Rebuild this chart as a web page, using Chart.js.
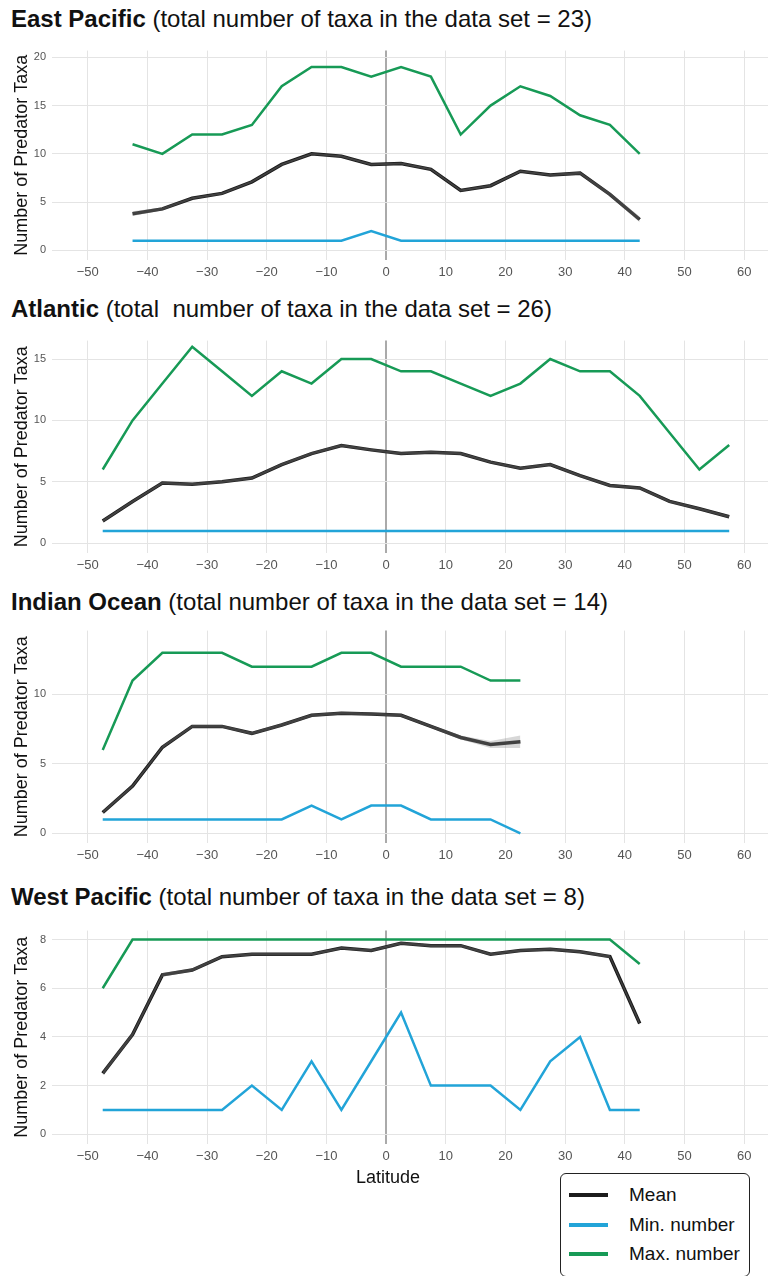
<!DOCTYPE html>
<html>
<head>
<meta charset="utf-8">
<script src="https://cdn.jsdelivr.net/npm/chart.js@4.4.1/dist/chart.umd.min.js"></script>
<style>
  body { margin: 0; width: 768px; height: 1276px; background: #fff; position: relative; overflow: hidden; font-family: "Liberation Sans", Arial, sans-serif; }
  .title { position: absolute; left: 11px; font-size: 24px; line-height: 1; white-space: nowrap; color: #111; }
  .title b { font-weight: 700; }
  canvas { position: absolute; left: 0; }
  .xlab { position: absolute; left: 288px; width: 200px; text-align: center; font-size: 18px; line-height: 20px; top: 1167px; color: #111; }
  .legend { position: absolute; left: 560px; top: 1173px; width: 190px; height: 104px; border: 1.5px solid #222; border-radius: 6px; box-sizing: border-box; }
  .legend .row { position: absolute; left: 8px; height: 22px; display: flex; align-items: center; }
  .legend .sw { width: 39px; height: 4px; margin-right: 21px; }
  .legend span { font-size: 19px; color: #111; }
</style>
</head>
<body>
<div class="title" style="top:7px"><b>East Pacific</b> (total number of taxa in the data set = 23)</div>
<canvas id="ep"></canvas>
<div class="title" style="top:297px"><b>Atlantic</b> (total&nbsp; number of taxa in the data set = 26)</div>
<canvas id="at"></canvas>
<div class="title" style="top:590px"><b>Indian Ocean</b> (total number of taxa in the data set = 14)</div>
<canvas id="io"></canvas>
<div class="title" style="top:885px"><b>West Pacific</b> (total number of taxa in the data set = 8)</div>
<canvas id="wp"></canvas>
<div class="xlab">Latitude</div>
<div class="legend">
  <div class="row" style="top:10px"><div class="sw" style="background:#1c1c1c"></div><span>Mean</span></div>
  <div class="row" style="top:40px"><div class="sw" style="background:#22a4d8"></div><span>Min. number</span></div>
  <div class="row" style="top:69px"><div class="sw" style="background:#179a56"></div><span>Max. number</span></div>
</div>
<script>
const xTicks = [-50, -40, -30, -20, -10, 0, 10, 20, 30, 40, 50, 60];

// East Pacific
const epLat = [-42.5, -37.5, -32.5, -27.5, -22.5, -17.5, -12.5, -7.5, -2.5, 2.5, 7.5, 12.5, 17.5, 22.5, 27.5, 32.5, 37.5, 42.5];
const epMax = [11, 10, 12, 12, 13, 17, 19, 19, 18, 19, 18, 12, 15, 17, 16, 14, 13, 10];
const epMean = [3.8, 4.3, 5.4, 5.9, 7.1, 8.9, 10.0, 9.75, 8.9, 9.0, 8.4, 6.2, 6.7, 8.2, 7.8, 8.0, 5.8, 3.2];
const epSe = [0.25, 0.15, 0.1, 0.1, 0.1, 0.1, 0.1, 0.1, 0.1, 0.1, 0.1, 0.1, 0.1, 0.1, 0.1, 0.15, 0.2, 0.3];
const epMin = [1, 1, 1, 1, 1, 1, 1, 1, 2, 1, 1, 1, 1, 1, 1, 1, 1, 1];
const epYTicks = [0, 5, 10, 15, 20];

// Atlantic
const atLat = [-47.5, -42.5, -37.5, -32.5, -27.5, -22.5, -17.5, -12.5, -7.5, -2.5, 2.5, 7.5, 12.5, 17.5, 22.5, 27.5, 32.5, 37.5, 42.5, 47.5, 52.5, 57.5];
const atMax = [6, 10, 13, 16, 14, 12, 14, 13, 15, 15, 14, 14, 13, 12, 13, 15, 14, 14, 12, 9, 6, 8];
const atMean = [1.8, 3.4, 4.9, 4.8, 5.0, 5.3, 6.4, 7.3, 7.95, 7.6, 7.3, 7.4, 7.3, 6.6, 6.1, 6.4, 5.5, 4.7, 4.5, 3.4, 2.8, 2.15];
const atSe = [0.1, 0.1, 0.1, 0.1, 0.1, 0.1, 0.1, 0.1, 0.1, 0.1, 0.1, 0.1, 0.1, 0.1, 0.1, 0.1, 0.1, 0.1, 0.1, 0.1, 0.1, 0.1];
const atMin = [1, 1, 1, 1, 1, 1, 1, 1, 1, 1, 1, 1, 1, 1, 1, 1, 1, 1, 1, 1, 1, 1];
const atYTicks = [0, 5, 10, 15];

// Indian Ocean
const ioLat = [-47.5, -42.5, -37.5, -32.5, -27.5, -22.5, -17.5, -12.5, -7.5, -2.5, 2.5, 7.5, 12.5, 17.5, 22.5];
const ioMax = [6, 11, 13, 13, 13, 12, 12, 12, 13, 13, 12, 12, 12, 11, 11];
const ioMean = [1.5, 3.4, 6.2, 7.7, 7.7, 7.2, 7.8, 8.5, 8.65, 8.6, 8.5, 7.7, 6.9, 6.4, 6.6];
const ioSe = [0.1, 0.1, 0.1, 0.1, 0.1, 0.1, 0.1, 0.1, 0.1, 0.1, 0.1, 0.1, 0.15, 0.25, 0.45];
const ioMin = [1, 1, 1, 1, 1, 1, 1, 2, 1, 2, 2, 1, 1, 1, 0];
const ioYTicks = [0, 5, 10];

// West Pacific
const wpLat = [-47.5, -42.5, -37.5, -32.5, -27.5, -22.5, -17.5, -12.5, -7.5, -2.5, 2.5, 7.5, 12.5, 17.5, 22.5, 27.5, 32.5, 37.5, 42.5];
const wpMax = [6, 8, 8, 8, 8, 8, 8, 8, 8, 8, 8, 8, 8, 8, 8, 8, 8, 8, 7];
const wpMean = [2.5, 4.1, 6.55, 6.75, 7.3, 7.4, 7.4, 7.4, 7.65, 7.55, 7.85, 7.75, 7.75, 7.4, 7.55, 7.6, 7.5, 7.3, 4.55];
const wpSe = [0.08, 0.08, 0.08, 0.06, 0.05, 0.05, 0.05, 0.05, 0.05, 0.05, 0.05, 0.05, 0.05, 0.05, 0.05, 0.05, 0.05, 0.06, 0.08];
const wpMin = [1, 1, 1, 1, 1, 2, 1, 3, 1, 3, 5, 2, 2, 2, 1, 3, 4, 1, 1];
const wpYTicks = [0, 2, 4, 6, 8];

const GREEN = '#179a56';
const BLUE = '#22a4d8';
const BLACK = '#1a1a1a';
const X_AXIS_H = 26;
const PAD_TOP = 10;

function pts(lat, vals) {
  return lat.map((x, i) => ({ x: x, y: vals[i] }));
}

function makePanel(id, lat, mean, se, mn, mx, yTicks, yMin, yMax, top, bottom) {
  const canvas = document.getElementById(id);
  canvas.width = 768;
  canvas.height = PAD_TOP + (bottom - top) + X_AXIS_H;
  canvas.style.top = (top - PAD_TOP) + 'px';

  const upper = mean.map((m, i) => m + se[i]);
  const lower = mean.map((m, i) => m - se[i]);

  new Chart(canvas, {
    type: 'line',
    data: {
      datasets: [
        { data: pts(lat, upper), borderWidth: 0, pointRadius: 0, fill: '+1', backgroundColor: 'rgba(140,140,140,0.35)' },
        { data: pts(lat, lower), borderWidth: 0, pointRadius: 0, fill: false },
        { label: 'Min. number', data: pts(lat, mn), borderColor: BLUE, borderWidth: 2.5, pointRadius: 0, tension: 0 },
        { label: 'Max. number', data: pts(lat, mx), borderColor: GREEN, borderWidth: 2.5, pointRadius: 0, tension: 0 },
        { label: 'Mean', data: pts(lat, mean), borderColor: BLACK, borderWidth: 3.5, pointRadius: 0, tension: 0 },
      ],
    },
    options: {
      responsive: false,
      animation: false,
      layout: { padding: { top: PAD_TOP, right: 0, bottom: 0, left: 0 } },
      plugins: { legend: { display: false }, tooltip: { enabled: false } },
      scales: {
        x: {
          type: 'linear',
          min: -56,
          max: 64,
          afterBuildTicks: s => { s.ticks = xTicks.map(v => ({ value: v })); },
          afterFit: s => { s.height = X_AXIS_H; },
          border: { display: false },
          grid: {
            drawTicks: false,
            color: c => (c.tick && c.tick.value === 0 ? '#aaaaaa' : '#e4e4e4'),
            lineWidth: c => (c.tick && c.tick.value === 0 ? 2 : 1),
          },
          ticks: {
            padding: 5,
            color: '#555',
            font: { family: 'Liberation Sans', size: 13 },
            callback: v => String(v).replace('-', '\u2212'),
          },
        },
        y: {
          min: yMin,
          max: yMax,
          afterBuildTicks: s => { s.ticks = yTicks.map(v => ({ value: v })); },
          afterFit: s => { s.width = 52; },
          border: { display: false },
          grid: { drawTicks: false, color: '#e4e4e4', lineWidth: 1 },
          ticks: { padding: 6, color: '#555', font: { family: 'Liberation Sans', size: 11 } },
          title: {
            display: true,
            text: 'Number of Predator Taxa',
            color: '#111',
            font: { family: 'Liberation Sans', size: 18 },
            padding: { top: 11, bottom: 0 },
          },
        },
      },
    },
  });
}

makePanel('ep', epLat, epMean, epSe, epMin, epMax, epYTicks, -1, 20.7, 48, 260);
makePanel('at', atLat, atMean, atSe, atMin, atMax, atYTicks, -0.8, 16.5, 338, 553);
makePanel('io', ioLat, ioMean, ioSe, ioMin, ioMax, ioYTicks, -0.7, 14.6, 628, 843);
makePanel('wp', wpLat, wpMean, wpSe, wpMin, wpMax, wpYTicks, -0.4, 8.37, 928, 1144);
</script>
</body>
</html>
